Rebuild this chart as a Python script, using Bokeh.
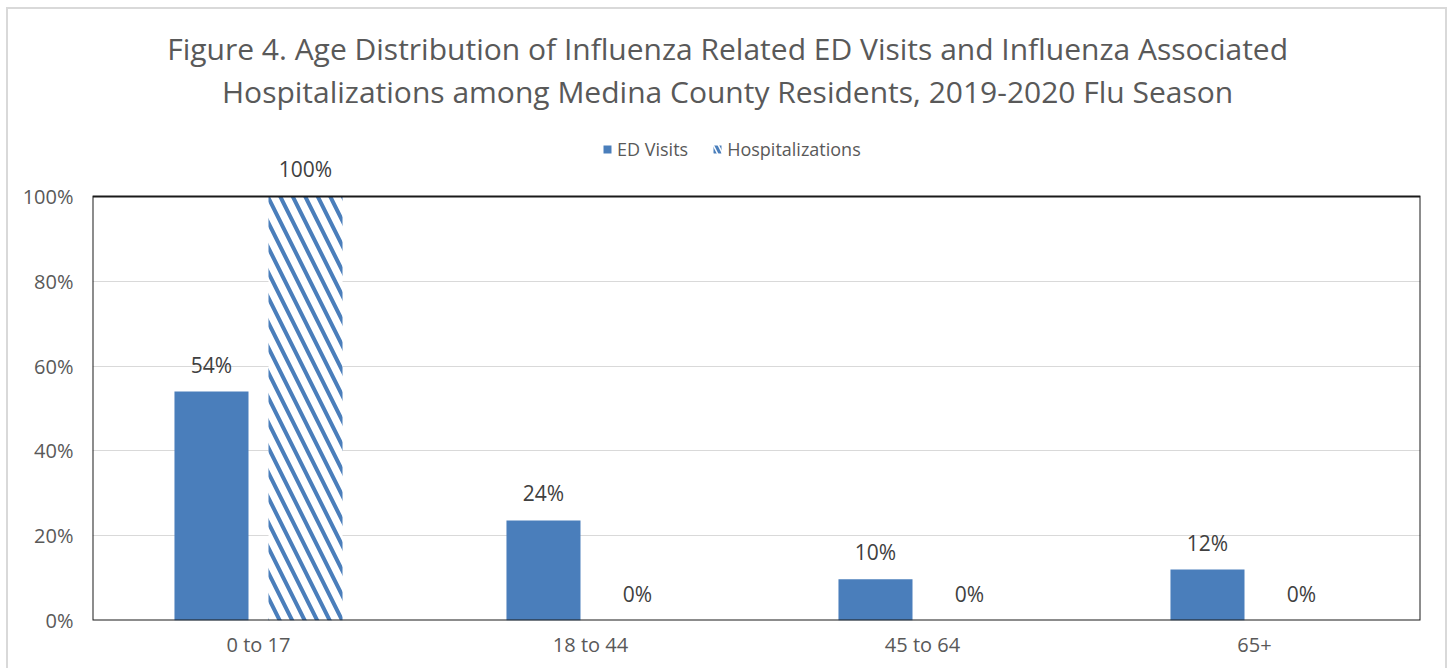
from bokeh.plotting import figure
from bokeh.models import (ColumnDataSource, FactorRange, LabelSet, Label, Legend,
                          LegendItem, NumeralTickFormatter, Range1d, FixedTicker,
                          BoxAnnotation)
from bokeh.transform import dodge
from bokeh.core.properties import value
from bokeh.embed import file_html
from bokeh.resources import INLINE

# ---- data ----
categories = ["0 to 17", "18 to 44", "45 to 64", "65+"]
ed_visits = [0.54, 0.236, 0.097, 0.12]
hospitalizations = [1.0, 0.0, 0.0, 0.0]
y_ticks = [0, 0.2, 0.4, 0.6, 0.8, 1.0]
title_line1 = "Figure 4. Age Distribution of Influenza Related ED Visits and Influenza Associated"
title_line2 = "Hospitalizations among Medina County Residents, 2019-2020 Flu Season"
series_names = ["ED Visits", "Hospitalizations"]

BLUE = "#4a7ebb"
GREY = "#595959"
FONT = "Open Sans"
OFF = 0.1416
BW = 0.223
Y_TOP = 1.415  # extra headroom inside the frame for title and legend

src = ColumnDataSource(dict(
    cat=categories,
    ed=ed_visits,
    hosp=hospitalizations,
    ed_x=[i + 0.5 - OFF for i in range(len(categories))],
    hosp_x=[i + 0.5 + OFF for i in range(len(categories))],
    ed_lbl=[f"{round(v * 100)}%" for v in ed_visits],
    hosp_lbl=[f"{round(v * 100)}%" for v in hospitalizations],
))

p = figure(width=1450, height=668, x_range=FactorRange(*categories),
           y_range=Range1d(0, Y_TOP), output_backend="svg", toolbar_location=None,
           min_border_left=92, min_border_right=30, min_border_top=20,
           min_border_bottom=48)
p.border_fill_color = None
p.background_fill_color = "white"
g = "linear-gradient(#d9d9d9,#d9d9d9)"
p.styles = {"background": f"{g} 6px 7px / 2px 100% no-repeat, "
                          f"{g} 1445px 7px / 2px 100% no-repeat, "
                          f"{g} 6px 7px / 1441px 2px no-repeat, white"}

r1 = p.vbar(x=dodge("cat", -OFF, range=p.x_range), top="ed", width=BW, source=src,
            fill_color=BLUE, line_color=None)
r2 = p.vbar(x=dodge("cat", OFF, range=p.x_range), top="hosp", width=BW, source=src,
            fill_color="white", line_color=None, hatch_pattern="left_diagonal_line",
            hatch_color=BLUE, hatch_scale=25, hatch_weight=4)
# legend-only swatch for the hatched series (zero-height bar, finer hatch for the small icon)
r2_key = p.vbar(x=dodge("cat", OFF, range=p.x_range), top="hosp", bottom="hosp",
                width=0, source=ColumnDataSource(dict(cat=categories[1:2], hosp=[0.0])),
                fill_color="white", line_color=None,
                hatch_pattern="left_diagonal_line", hatch_color=BLUE,
                hatch_scale=10, hatch_weight=3)

for xcol, ycol, tcol in [("ed_x", "ed", "ed_lbl"), ("hosp_x", "hosp", "hosp_lbl")]:
    p.add_layout(LabelSet(x=xcol, y=ycol, text=tcol, source=src, text_align="center",
                          text_baseline="alphabetic", y_offset=19,
                          text_font=value(FONT), text_font_size="21px",
                          text_color="#404040"))

# plot-area box (0..100%)
p.add_layout(BoxAnnotation(left=0, right=len(categories), bottom=0, top=1,
                           fill_color=None, fill_alpha=0, line_color="#1a1a1a",
                           line_alpha=1.0, line_width=2))

# axes
p.yaxis.ticker = FixedTicker(ticks=y_ticks)
p.yaxis.formatter = NumeralTickFormatter(format="0%")
for ax in (p.xaxis, p.yaxis):
    ax.axis_line_color = None
    ax.major_tick_line_color = None
    ax.minor_tick_line_color = None
    ax.major_tick_out = 0
    ax.major_tick_in = 0
    ax.major_label_text_font = FONT
    ax.major_label_text_font_size = "20px"
    ax.major_label_text_color = GREY
p.yaxis.major_label_standoff = 19
p.xaxis.major_label_standoff = 10

p.xgrid.grid_line_color = None
p.ygrid.grid_line_color = "#d9d9d9"
p.ygrid.grid_line_width = 1
p.outline_line_color = None

# title
for txt, yy in [(title_line1, 1.349), (title_line2, 1.248)]:
    p.add_layout(Label(x=1.913, y=yy, text=txt, text_align="center",
                       text_baseline="middle", text_font=FONT,
                       text_font_size="30px", text_color=GREY))

legend = Legend(items=[LegendItem(label=series_names[0], renderers=[r1]),
                       LegendItem(label=series_names[1], renderers=[r2_key])],
                orientation="horizontal", location=(510, 459),
                glyph_width=10, glyph_height=10, label_height=20,
                label_text_font=FONT, label_text_font_size="18px",
                label_text_color=GREY, border_line_color=None,
                background_fill_alpha=0, padding=0, margin=0, spacing=24,
                label_standoff=5)
p.add_layout(legend)

open("out.html", "w").write(file_html(p, INLINE))
